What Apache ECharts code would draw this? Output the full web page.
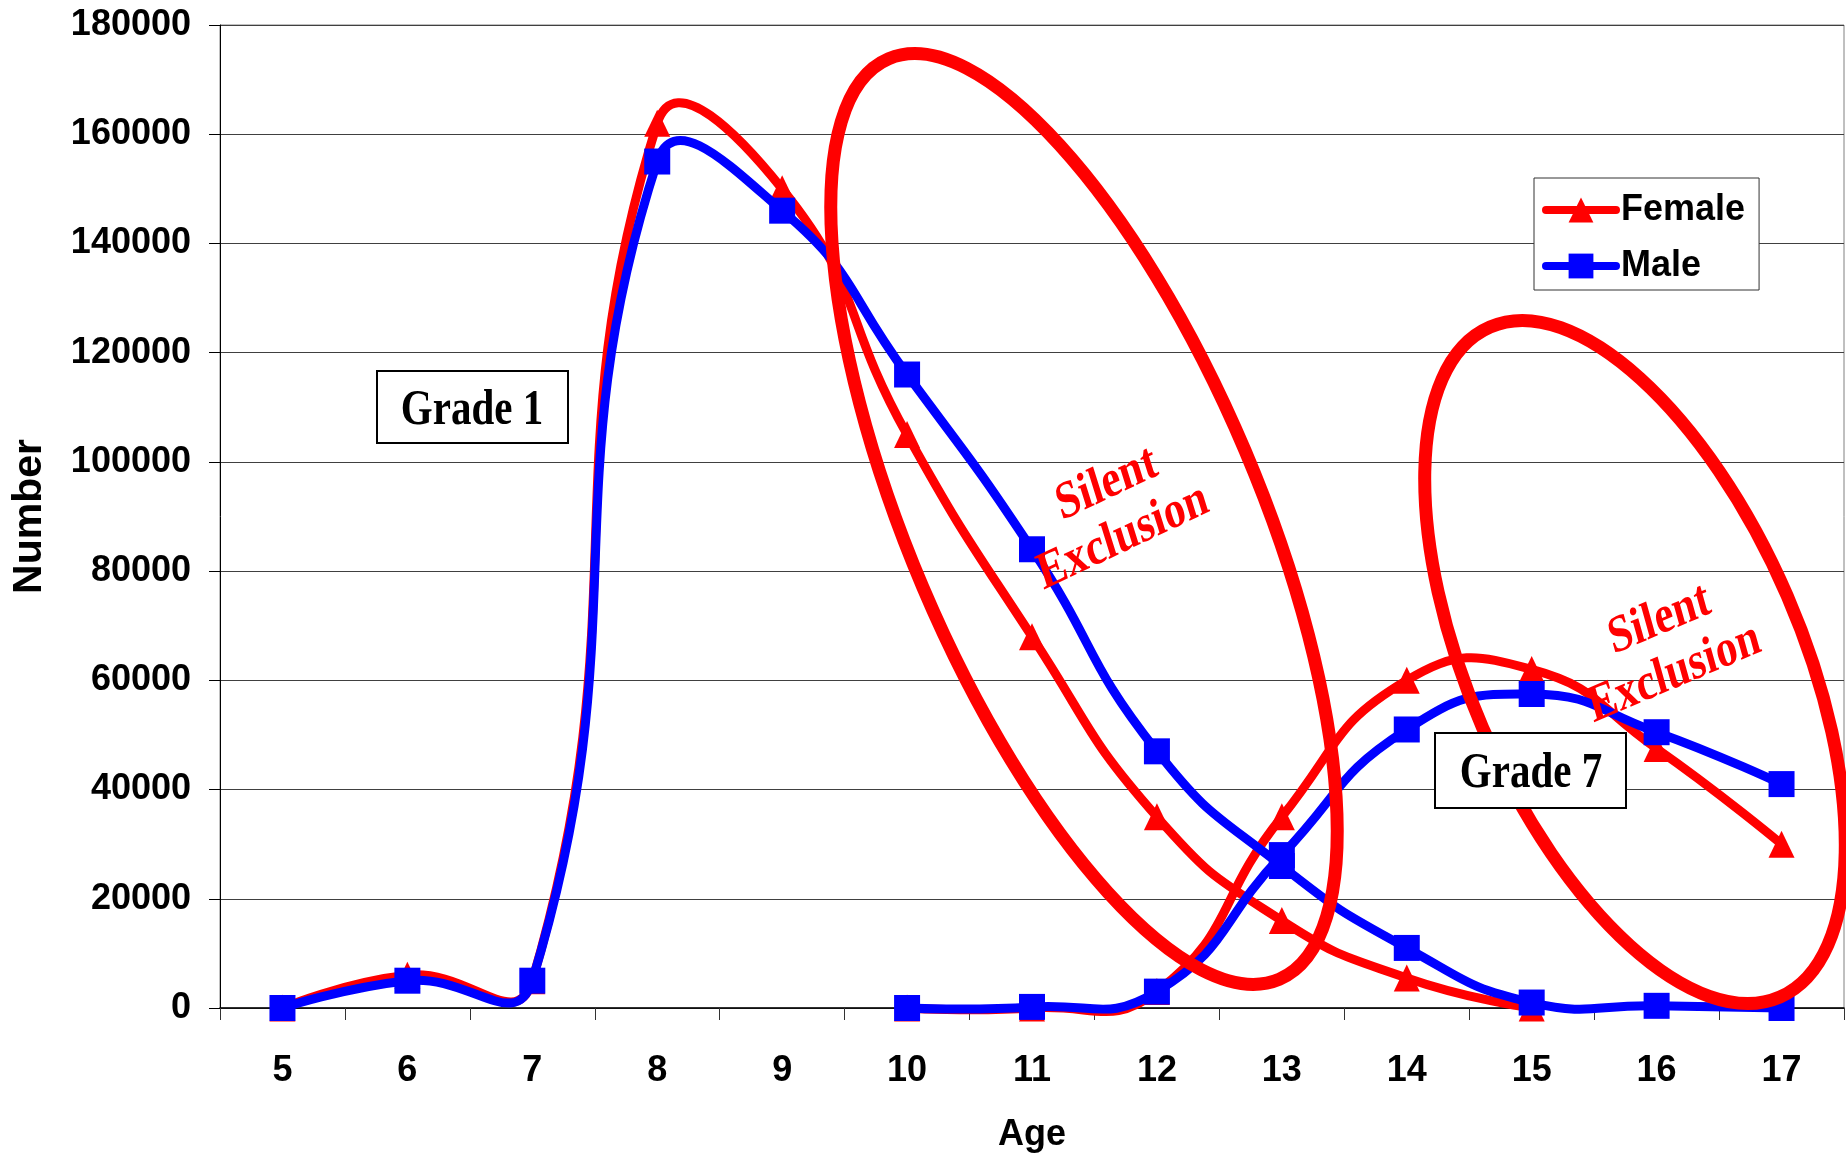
<!DOCTYPE html>
<html>
<head>
<meta charset="utf-8">
<script src="https://cdn.jsdelivr.net/npm/echarts@6/dist/echarts.min.js"></script>
<style>
html,body{margin:0;padding:0;background:#ffffff;}
#chart{width:1846px;height:1158px;}
</style>
</head>
<body>
<div id="chart"></div>
<script>
// ---------------- data ----------------
const ages = ['5','6','7','8','9','10','11','12','13','14','15','16','17'];
const grade1Female = [0, 6000, 5000, 162000, 150000, 105000, 68000, 35000, 16000, 5500, 0, null, null];
const grade1Male   = [0, 5000, 5000, 155000, 146000, 116000, 84000, 47000, 26000, 11000, 1000, 400, 0];
const grade7Female = [null, null, null, null, null, 0, 0, 3000, 35000, 60000, 62000, 47500, 30000];
const grade7Male   = [null, null, null, null, null, 0, 200, 3000, 28000, 51000, 57500, 50500, 41000];
const legendNames = ['Female', 'Male'];
const yMin = 0, yMax = 180000, yStep = 20000;
const xAxisTitle = 'Age';
const yAxisTitle = 'Number';
const gradeLabels = ['Grade 1', 'Grade 7'];
const noteText = 'Silent\nExclusion';

// ---------------- fonts ----------------
function hasFont(f) {
  const c = document.createElement('canvas').getContext('2d');
  const s = 'Female 1800000 Age';
  c.font = 'bold 40px monospace';
  const a = c.measureText(s).width;
  c.font = "bold 40px '" + f + "', monospace";
  const b = c.measureText(s).width;
  return Math.abs(a - b) > 0.5;
}
const narrow = hasFont('Liberation Sans Narrow');
const tickFamily = narrow ? "'Liberation Sans Narrow'" : "'Liberation Sans'";
const tickSize = narrow ? 44 : 36;
const SANS = "'Liberation Sans', Arial, sans-serif";
const SERIF = "'Liberation Serif', 'Times New Roman', serif";

const RED = '#FF0000';
const BLUE = '#0000FF';
const D = Math.PI / 180;
const LINE_W = 9;

// Excel-like smoothing (bezier, no clamping)
function smoothPath(pts, s) {
  const n = pts.length;
  if (!n) return '';
  const cps = pts.map((p, i) => {
    if (i === 0 || i === n - 1) return [p, p];
    const prev = pts[i - 1], next = pts[i + 1];
    const vx = next[0] - prev[0], vy = next[1] - prev[1];
    const d0 = Math.hypot(p[0] - prev[0], p[1] - prev[1]);
    const d1 = Math.hypot(next[0] - p[0], next[1] - p[1]);
    const r = d1 / ((d0 + d1) || 1);
    return [[p[0] - vx * s * (1 - r), p[1] - vy * s * (1 - r)],
            [p[0] + vx * s * r, p[1] + vy * s * r]];
  });
  const f = v => v.toFixed(2);
  let d = 'M' + f(pts[0][0]) + ' ' + f(pts[0][1]);
  for (let i = 1; i < n; i++) {
    const a = cps[i - 1][1], b = cps[i][0], p = pts[i];
    d += ' C' + f(a[0]) + ' ' + f(a[1]) + ' ' + f(b[0]) + ' ' + f(b[1]) + ' ' + f(p[0]) + ' ' + f(p[1]);
  }
  return d;
}

function curve(name, values, color, z) {
  return {
    type: 'custom', name: name, z: z, silent: true,
    coordinateSystem: 'cartesian2d',
    data: [[0, 0]],
    renderItem: function (params, api) {
      const pts = [];
      values.forEach((v, i) => { if (v != null) pts.push(api.coord([i, v])); });
      return {
        type: 'path',
        shape: { pathData: smoothPath(pts, 0.5) },
        style: { fill: 'none', stroke: color, lineWidth: LINE_W, lineJoin: 'round', lineCap: 'round' }
      };
    }
  };
}

function marks(name, values, color, symbol, size, z) {
  return {
    type: 'line', name: name, data: values, z: z,
    symbol: symbol, symbolSize: size, showSymbol: true, showAllSymbol: true,
    connectNulls: false, silent: true,
    lineStyle: { opacity: 0, width: LINE_W, color: color },
    itemStyle: { color: color, borderWidth: 0 }
  };
}

const chart = echarts.init(document.getElementById('chart'), null, { renderer: 'canvas' });

const option = {
  animation: false,
  backgroundColor: '#ffffff',
  grid: {
    left: 220, right: 2, top: 25, bottom: 149,
    show: true, borderColor: '#808080', borderWidth: 1, backgroundColor: 'transparent'
  },
  legend: {
    orient: 'vertical', left: 1534, top: 178,
    padding: [14, 14, 6, 8], itemGap: 20,
    itemWidth: 70, itemHeight: 31,
    backgroundColor: '#ffffff', borderColor: '#333333', borderWidth: 1,
    textStyle: { fontFamily: tickFamily, fontWeight: 'bold', fontSize: tickSize, color: '#000000' },
    data: [
      { name: legendNames[0], lineStyle: { opacity: 1, width: 8, color: RED, cap: 'round' } },
      { name: legendNames[1], lineStyle: { opacity: 1, width: 8, color: BLUE, cap: 'round' } }
    ]
  },
  xAxis: {
    type: 'category', data: ages, boundaryGap: true,
    name: xAxisTitle, nameLocation: 'middle', nameGap: 109,
    nameTextStyle: { fontFamily: tickFamily, fontWeight: 'bold', fontSize: tickSize, color: '#000000' },
    axisLine: { show: true, lineStyle: { color: '#000000', width: 1.5 } },
    axisTick: { show: true, inside: false, length: 12, alignWithLabel: false, interval: 0, lineStyle: { color: '#333333', width: 1 } },
    axisLabel: { interval: 0, margin: 45, fontFamily: tickFamily, fontWeight: 'bold', fontSize: tickSize, color: '#000000' },
    splitLine: { show: false }
  },
  yAxis: {
    type: 'value', min: yMin, max: yMax, interval: yStep,
    name: yAxisTitle, nameLocation: 'middle', nameRotate: 90, nameGap: 170,
    nameTextStyle: { fontFamily: SANS, fontWeight: 'bold', fontSize: 41, color: '#000000' },
    axisLine: { show: true, lineStyle: { color: '#000000', width: 1 } },
    axisTick: { show: true, inside: false, length: 11, lineStyle: { color: '#000000', width: 1 } },
    axisLabel: { margin: 29, fontFamily: tickFamily, fontWeight: 'bold', fontSize: tickSize, color: '#000000',
                 formatter: v => String(v) },
    splitLine: { show: true, lineStyle: { color: '#404040', width: 1 } }
  },
  series: [
    curve('Female grade 1 curve', grade1Female, RED, 2),
    curve('Female grade 7 curve', grade7Female, RED, 2),
    marks(legendNames[0], grade1Female, RED, 'triangle', [26, 27], 3),
    marks(legendNames[0], grade7Female, RED, 'triangle', [26, 27], 3),
    curve('Male grade 1 curve', grade1Male, BLUE, 4),
    curve('Male grade 7 curve', grade7Male, BLUE, 4),
    marks(legendNames[1], grade1Male, BLUE, 'rect', 26, 5),
    marks(legendNames[1], grade7Male, BLUE, 'rect', 26, 5)
  ],
  graphic: {
    elements: [
      { type: 'ellipse', x: 1084, y: 519, rotation: -67 * D, z: 10, silent: true,
        shape: { cx: 0, cy: 0, rx: 500, ry: 175 },
        style: { fill: 'none', stroke: RED, lineWidth: 13 } },
      { type: 'ellipse', x: 1635, y: 662, rotation: -66.6 * D, z: 10, silent: true,
        shape: { cx: 0, cy: 0, rx: 365, ry: 166 },
        style: { fill: 'none', stroke: RED, lineWidth: 13 } },
      { type: 'rect', z: 11, silent: true,
        shape: { x: 377, y: 371, width: 191, height: 72 },
        style: { fill: '#ffffff', stroke: '#000000', lineWidth: 2 } },
      { type: 'text', x: 472, y: 411, scaleY: 1.23, z: 12, silent: true,
        style: { text: gradeLabels[0], font: 'bold 41px ' + SERIF, fill: '#000000',
                 align: 'center', verticalAlign: 'middle', textAlign: 'center', textVerticalAlign: 'middle' } },
      { type: 'rect', z: 11, silent: true,
        shape: { x: 1435, y: 733, width: 191, height: 75 },
        style: { fill: '#ffffff', stroke: '#000000', lineWidth: 2 } },
      { type: 'text', x: 1531, y: 774, scaleY: 1.23, z: 12, silent: true,
        style: { text: gradeLabels[1], font: 'bold 41px ' + SERIF, fill: '#000000',
                 align: 'center', verticalAlign: 'middle', textAlign: 'center', textVerticalAlign: 'middle' } },
      { type: 'group', x: 1115, y: 511, scaleY: 1.23, z: 12, silent: true,
        children: [{ type: 'text', rotation: 21 * D, z: 12,
          style: { text: noteText, font: 'bold 43px ' + SERIF, fill: RED, lineHeight: 46,
                   align: 'center', verticalAlign: 'middle', textAlign: 'center', textVerticalAlign: 'middle' } }] },
      { type: 'group', x: 1667, y: 647, scaleY: 1.23, z: 12, silent: true,
        children: [{ type: 'text', rotation: 19 * D, z: 12,
          style: { text: noteText, font: 'bold 43px ' + SERIF, fill: RED, lineHeight: 46,
                   align: 'center', verticalAlign: 'middle', textAlign: 'center', textVerticalAlign: 'middle' } }] }
    ]
  }
};
chart.setOption(option);
</script>
</body>
</html>
